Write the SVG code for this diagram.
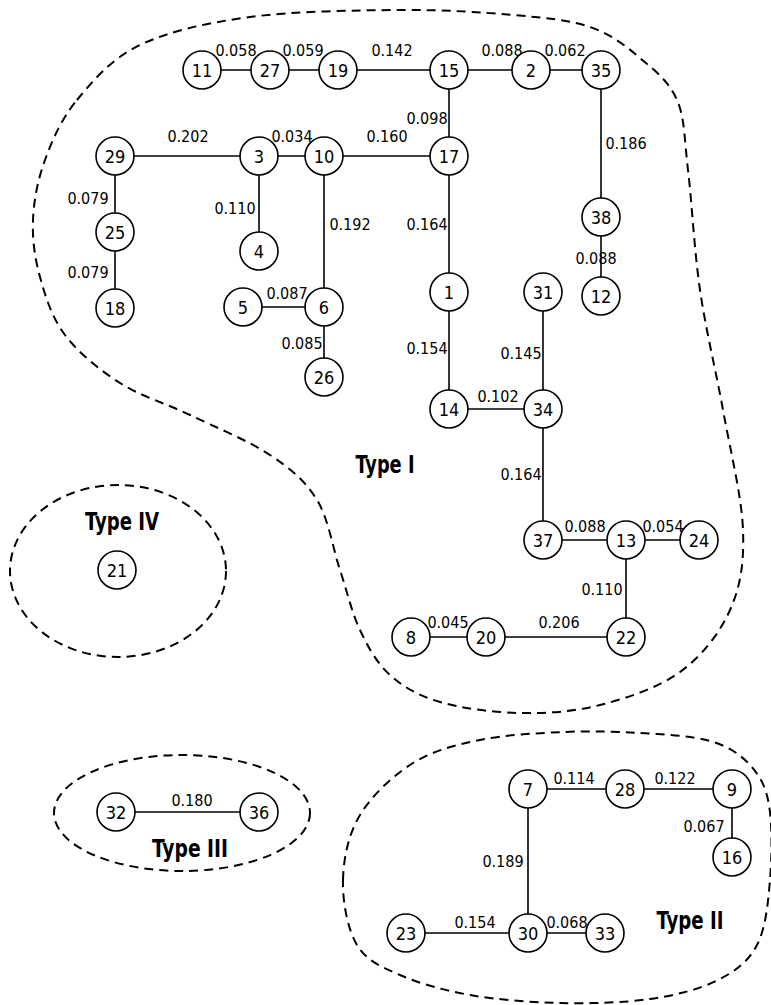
<svg xmlns="http://www.w3.org/2000/svg" width="771" height="1005" viewBox="0 0 771 1005">
<style>
.blob{fill:none;stroke:#000;stroke-width:2;stroke-dasharray:9 6}
.e line{stroke:#000;stroke-width:1.6}
.n circle{fill:#fff;stroke:#000;stroke-width:1.6}
.n text{font-family:"Liberation Sans Narrow","DejaVu Sans Condensed","Liberation Sans",sans-serif;font-size:18px;text-anchor:middle;fill:#000}
.w{font-family:"Liberation Sans Narrow","DejaVu Sans Condensed","Liberation Sans",sans-serif;font-size:16px;text-anchor:middle;fill:#000}
.t{font-family:"Liberation Sans Narrow","DejaVu Sans Condensed","Liberation Sans",sans-serif;font-size:24px;font-weight:bold;text-anchor:middle;fill:#000}
</style>
<rect width="771" height="1005" fill="#fff"/>
<g id="regions">
<path id="typeI" class="blob" d="M77,100 C92.8,80.8 111.2,58.8 140,45 C168.8,31.2 206.7,22.8 250,17 C293.3,11.2 356.2,10.3 400,10 C443.8,9.7 481.3,12.2 513,15 C544.7,17.8 568.8,19.8 590,27 C611.2,34.2 625.5,45.8 640,58 C654.5,70.2 669,81.3 677,100 C685,118.7 684.2,138.3 688,170 C691.8,201.7 694.2,250 700,290 C705.8,330 715.8,370 723,410 C730.2,450 741.8,496.7 743,530 C744.2,563.3 740.5,586.3 730,610 C719.5,633.7 701.7,656.2 680,672 C658.3,687.8 626.7,698.2 600,705 C573.3,711.8 546.7,713.5 520,713 C493.3,712.5 461.7,708.3 440,702 C418.3,695.7 403.3,687 390,675 C376.7,663 368.3,647.5 360,630 C351.7,612.5 347.2,591.7 340,570 C332.8,548.3 328.7,519.2 317,500 C305.3,480.8 291.2,469.2 270,455 C248.8,440.8 215,427 190,415 C165,403 140.8,396.3 120,383 C99.2,369.7 78.3,352.7 65,335 C51.7,317.3 45.3,296.2 40,277 C34.7,257.8 32.2,239.5 33,220 C33.8,200.5 37.7,180 45,160 C52.3,140 61.2,119.2 77,100 Z"/>
<ellipse id="typeIV" class="blob" cx="118" cy="571" rx="108" ry="86"/>
<ellipse id="typeIII" class="blob" cx="182" cy="813" rx="128" ry="58"/>
<path id="typeII" class="blob" d="M343,880 C343.5,858.3 348.3,834.5 360,815 C371.7,795.5 393,775.5 413,763 C433,750.5 455,745.2 480,740 C505,734.8 536.3,733.2 563,732 C589.7,730.8 615.5,731.5 640,733 C664.5,734.5 691.7,735.7 710,741 C728.3,746.3 740.2,754.3 750,765 C759.8,775.7 765.7,785.8 769,805 C772.3,824.2 772,856.7 770,880 C768,903.3 765.7,928.3 757,945 C748.3,961.7 735.8,971 718,980 C700.2,989 676.3,995.2 650,999 C623.7,1002.8 590,1003.7 560,1003 C530,1002.3 496.7,999.7 470,995 C443.3,990.3 418.8,983.3 400,975 C381.2,966.7 366.5,960.8 357,945 C347.5,929.2 342.5,901.7 343,880 Z"/>
<text class="t" x="385" y="473" textLength="59" lengthAdjust="spacingAndGlyphs">Type I</text>
<text class="t" x="122" y="530" textLength="74" lengthAdjust="spacingAndGlyphs">Type IV</text>
<text class="t" x="190" y="857" textLength="76" lengthAdjust="spacingAndGlyphs">Type III</text>
<text class="t" x="690" y="929" textLength="67" lengthAdjust="spacingAndGlyphs">Type II</text>
</g>
<g id="connectors" class="e">
<line x1="202" y1="70" x2="601" y2="70"/>
<line x1="449" y1="70" x2="449" y2="409"/>
<line x1="115" y1="156" x2="449" y2="156"/>
<line x1="115" y1="156" x2="115" y2="308"/>
<line x1="259" y1="156" x2="259" y2="251"/>
<line x1="324" y1="156" x2="324" y2="377"/>
<line x1="243" y1="307" x2="324" y2="307"/>
<line x1="601" y1="70" x2="601" y2="296"/>
<line x1="449" y1="409" x2="543" y2="409"/>
<line x1="543" y1="292" x2="543" y2="540"/>
<line x1="543" y1="540" x2="699" y2="540"/>
<line x1="626" y1="540" x2="626" y2="637"/>
<line x1="411" y1="637" x2="626" y2="637"/>
<line x1="116" y1="812" x2="259" y2="812"/>
<line x1="528" y1="789" x2="732" y2="789"/>
<line x1="732" y1="789" x2="732" y2="857"/>
<line x1="528" y1="789" x2="528" y2="933"/>
<line x1="406" y1="933" x2="605" y2="933"/>
</g>
<g id="weights">
<text class="w" x="236" y="56">0.058</text>
<text class="w" x="303" y="56">0.059</text>
<text class="w" x="392" y="56">0.142</text>
<text class="w" x="502" y="56">0.088</text>
<text class="w" x="565" y="56">0.062</text>
<text class="w" x="427" y="124">0.098</text>
<text class="w" x="188" y="142">0.202</text>
<text class="w" x="292" y="142">0.034</text>
<text class="w" x="387" y="142">0.160</text>
<text class="w" x="626" y="149">0.186</text>
<text class="w" x="88" y="204">0.079</text>
<text class="w" x="235" y="214">0.110</text>
<text class="w" x="350" y="230">0.192</text>
<text class="w" x="427" y="230">0.164</text>
<text class="w" x="88" y="278">0.079</text>
<text class="w" x="596" y="264">0.088</text>
<text class="w" x="287" y="299">0.087</text>
<text class="w" x="302" y="349">0.085</text>
<text class="w" x="427" y="354">0.154</text>
<text class="w" x="521" y="359">0.145</text>
<text class="w" x="498" y="402">0.102</text>
<text class="w" x="521" y="480">0.164</text>
<text class="w" x="585" y="532">0.088</text>
<text class="w" x="663" y="532">0.054</text>
<text class="w" x="602" y="595">0.110</text>
<text class="w" x="448" y="628">0.045</text>
<text class="w" x="559" y="628">0.206</text>
<text class="w" x="192" y="806">0.180</text>
<text class="w" x="574" y="784">0.114</text>
<text class="w" x="675" y="784">0.122</text>
<text class="w" x="704" y="832">0.067</text>
<text class="w" x="503" y="867">0.189</text>
<text class="w" x="475" y="928">0.154</text>
<text class="w" x="567" y="928">0.068</text>
</g>
<g id="n11" class="n"><circle cx="202" cy="70" r="19"/><text x="202" y="76.5">11</text></g>
<g id="n27" class="n"><circle cx="270" cy="70" r="19"/><text x="270" y="76.5">27</text></g>
<g id="n19" class="n"><circle cx="338" cy="70" r="19"/><text x="338" y="76.5">19</text></g>
<g id="n15" class="n"><circle cx="449" cy="70" r="19"/><text x="449" y="76.5">15</text></g>
<g id="n2" class="n"><circle cx="531" cy="70" r="19"/><text x="531" y="76.5">2</text></g>
<g id="n35" class="n"><circle cx="601" cy="70" r="19"/><text x="601" y="76.5">35</text></g>
<g id="n29" class="n"><circle cx="115" cy="156" r="19"/><text x="115" y="162.5">29</text></g>
<g id="n3" class="n"><circle cx="259" cy="156" r="19"/><text x="259" y="162.5">3</text></g>
<g id="n10" class="n"><circle cx="324" cy="156" r="19"/><text x="324" y="162.5">10</text></g>
<g id="n17" class="n"><circle cx="449" cy="156" r="19"/><text x="449" y="162.5">17</text></g>
<g id="n25" class="n"><circle cx="115" cy="232" r="19"/><text x="115" y="238.5">25</text></g>
<g id="n4" class="n"><circle cx="259" cy="251" r="19"/><text x="259" y="257.5">4</text></g>
<g id="n38" class="n"><circle cx="601" cy="217" r="19"/><text x="601" y="223.5">38</text></g>
<g id="n18" class="n"><circle cx="115" cy="308" r="19"/><text x="115" y="314.5">18</text></g>
<g id="n5" class="n"><circle cx="243" cy="307" r="19"/><text x="243" y="313.5">5</text></g>
<g id="n6" class="n"><circle cx="324" cy="307" r="19"/><text x="324" y="313.5">6</text></g>
<g id="n26" class="n"><circle cx="324" cy="377" r="19"/><text x="324" y="383.5">26</text></g>
<g id="n1" class="n"><circle cx="449" cy="292" r="19"/><text x="449" y="298.5">1</text></g>
<g id="n31" class="n"><circle cx="543" cy="292" r="19"/><text x="543" y="298.5">31</text></g>
<g id="n12" class="n"><circle cx="601" cy="296" r="19"/><text x="601" y="302.5">12</text></g>
<g id="n14" class="n"><circle cx="449" cy="409" r="19"/><text x="449" y="415.5">14</text></g>
<g id="n34" class="n"><circle cx="543" cy="409" r="19"/><text x="543" y="415.5">34</text></g>
<g id="n37" class="n"><circle cx="543" cy="540" r="19"/><text x="543" y="546.5">37</text></g>
<g id="n13" class="n"><circle cx="626" cy="540" r="19"/><text x="626" y="546.5">13</text></g>
<g id="n24" class="n"><circle cx="699" cy="540" r="19"/><text x="699" y="546.5">24</text></g>
<g id="n8" class="n"><circle cx="411" cy="637" r="19"/><text x="411" y="643.5">8</text></g>
<g id="n20" class="n"><circle cx="486" cy="637" r="19"/><text x="486" y="643.5">20</text></g>
<g id="n22" class="n"><circle cx="626" cy="637" r="19"/><text x="626" y="643.5">22</text></g>
<g id="n21" class="n"><circle cx="117" cy="570" r="19"/><text x="117" y="576.5">21</text></g>
<g id="n32" class="n"><circle cx="116" cy="812" r="19"/><text x="116" y="818.5">32</text></g>
<g id="n36" class="n"><circle cx="259" cy="812" r="19"/><text x="259" y="818.5">36</text></g>
<g id="n7" class="n"><circle cx="528" cy="789" r="19"/><text x="528" y="795.5">7</text></g>
<g id="n28" class="n"><circle cx="625" cy="789" r="19"/><text x="625" y="795.5">28</text></g>
<g id="n9" class="n"><circle cx="732" cy="789" r="19"/><text x="732" y="795.5">9</text></g>
<g id="n16" class="n"><circle cx="732" cy="857" r="19"/><text x="732" y="863.5">16</text></g>
<g id="n23" class="n"><circle cx="406" cy="933" r="19"/><text x="406" y="939.5">23</text></g>
<g id="n30" class="n"><circle cx="528" cy="933" r="19"/><text x="528" y="939.5">30</text></g>
<g id="n33" class="n"><circle cx="605" cy="933" r="19"/><text x="605" y="939.5">33</text></g>
</svg>
